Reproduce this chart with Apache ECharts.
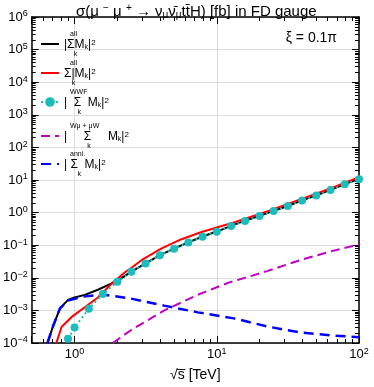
<!DOCTYPE html>
<html>
<head>
<meta charset="utf-8">
<script src="https://cdn.jsdelivr.net/npm/echarts@6/dist/echarts.min.js"></script>
<style>
  html, body { margin: 0; padding: 0; background: #fff; }
  #chart { width: 374px; height: 387px; }
</style>
</head>
<body>
<div id="chart"></div>
<script>
/* sigma(mu- mu+ -> nu nubar t tbar H) vs sqrt(s), FD gauge, xi = 0.1 pi */
const FONT = 'Liberation Sans';

// |sum_k^all M_k|^2
const allAmpS = [0.645, 0.71, 0.79, 0.9, 1.0, 1.18, 1.46, 1.81, 2.13, 2.51, 3.16, 3.98, 5.01, 6.31, 7.94, 10, 12.6, 15.8, 20, 25.1, 31.6, 39.8, 50.1, 63.1, 79.4, 100];
const allAmpV = [1e-4, 3.5e-4, 1.15e-3, 2.1e-3, 2.5e-3, 3.0e-3, 4.3e-3, 6.6e-3, 9.6e-3, 1.55e-2, 2.78e-2, 4.95e-2, 7.9e-2, 0.122, 0.185, 0.262, 0.39, 0.565, 0.8, 1.13, 1.6, 2.38, 3.37, 4.98, 7.55, 10.8];

// sum_k^all |M_k|^2
const allSqS = [0.745, 0.81, 0.95, 1.18, 1.46, 1.81, 2.25, 2.5, 2.94, 4.06, 5.6, 7.73, 10.7, 13.2, 22.6, 38.7, 65.8, 100];
const allSqV = [1e-4, 3.1e-4, 6.2e-4, 1.25e-3, 2.5e-3, 6.4e-3, 1.45e-2, 2.0e-2, 3.4e-2, 7.8e-2, 0.15, 0.25, 0.38, 0.5, 1.08, 2.55, 5.9, 12.3];

// WWF
const wwfS = [0.9, 1.0, 1.26, 1.58, 2.0, 2.51, 3.16, 3.98, 5.01, 6.31, 7.94, 10, 12.6, 15.8, 20, 25.1, 31.6, 39.8, 50.1, 63.1, 79.4, 100];
const wwfV = [1.35e-4, 2.98e-4, 1.12e-3, 3.2e-3, 7.5e-3, 1.53e-2, 2.74e-2, 4.89e-2, 7.8e-2, 0.121, 0.183, 0.259, 0.385, 0.557, 0.789, 1.12, 1.58, 2.35, 3.33, 4.92, 7.47, 10.6];

// W mu + mu W
const wmuS = [1.86, 2.5, 4.28, 7.33, 12, 22.6, 38.7, 66, 100];
const wmuV = [1e-4, 2.5e-4, 1.0e-3, 3.0e-3, 7.0e-3, 1.6e-2, 3.5e-2, 6.8e-2, 0.105];

// annihilation
const anniS = [0.645, 0.71, 0.79, 0.9, 1.12, 1.46, 1.72, 2.5, 4.26, 7.36, 13.2, 22.8, 38.6, 65.8, 100];
const anniV = [1e-4, 3.5e-4, 1.15e-3, 2.0e-3, 2.6e-3, 3.0e-3, 2.9e-3, 2.3e-3, 1.4e-3, 8.7e-4, 5.7e-4, 3.2e-4, 2.1e-4, 1.7e-4, 1.5e-4];

const xRange = [0.5, 100];
const yRange = [1e-4, 1e6];

const pairs = (xs, ys) => xs.map((x, i) => [x, ys[i]]);

const isPow10 = (v) => Math.abs(Math.log10(v) - Math.round(Math.log10(v))) < 1e-6;
const powLabel = (v) => {
  if (!isPow10(v)) return '';
  const e = Math.round(Math.log10(v));
  return '{b|10}{e|' + (e < 0 ? '\u2212' + (-e) : e) + '}';
};
const labelRich = {
  b: { fontFamily: FONT, fontSize: 13, color: '#000', lineHeight: 15 },
  e: { fontFamily: FONT, fontSize: 9, color: '#000', verticalAlign: 'top', lineHeight: 9 },
};

function logAxis(extra, range, split, showLabel) {
  return Object.assign({
    type: 'log', logBase: 10, min: range[0], max: range[1], splitNumber: split,
    axisLine: { lineStyle: { color: '#000', width: 1.5 } },
    axisTick: { inside: true, length: 7, lineStyle: { color: '#000', width: 1 } },
    minorTick: { show: true, splitNumber: 9, length: 4, lineStyle: { color: '#000', width: 1 } },
    axisLabel: { show: showLabel, formatter: powLabel, rich: labelRich, margin: 4 },
    splitLine: { show: false },
  }, extra);
}

// legend label pieces: sup text above the sum sign, main line, k below
const legendRich = {
  a: { fontFamily: FONT, fontSize: 7, lineHeight: 9, color: '#000', padding: [0, 0, 0, 6] },
  m: { fontFamily: FONT, fontSize: 12, lineHeight: 12, color: '#000' },
  s: { fontFamily: FONT, fontSize: 7, lineHeight: 7, color: '#000', verticalAlign: 'bottom' },
  p: { fontFamily: FONT, fontSize: 8, lineHeight: 8, color: '#000', verticalAlign: 'top' },
  k: { fontFamily: FONT, fontSize: 7, lineHeight: 7, color: '#000' },
};
const legendText = {
  all1: '{a|all}\n{m||\u03a3M}{s|k}{m||}{p|2}\n{k|     k}',
  all2: '{a|all}\n{m|\u03a3|M}{s|k}{m||}{p|2}\n{k|    k}',
  wwf: '{a|WWF}\n{m||  \u03a3  M}{s|k}{m||}{p|2}\n{k|       k}',
  wmu: '{a|W\u03bc + \u03bcW}\n{m||     \u03a3     M}{s|k}{m||}{p|2}\n{k|            k}',
  anni: '{a|anni.}\n{m|| \u03a3  M}{s|k}{m||}{p|2}\n{k|       k}',
};
const legendNames = ['all1', 'all2', 'wwf', 'wmu', 'anni'];
const legendIconY = [45, 74, 103, 137, 165];

const chart = echarts.init(document.getElementById('chart'));

chart.setOption({
  animation: false,
  backgroundColor: '#fff',
  title: {
    left: 76, top: 0, padding: [3, 0, 0, 0],
    text: '{n|\u03c3(\u03bc }{u|\u2212}{n| \u03bc }{u|+}{n| \u2192 \u03bd}{d|\u03bc}{n|\u03bd\u0304}{d|\u03bc}{n|tt\u0304H) [fb] in FD gauge}',
    textStyle: {
      fontWeight: 'normal',
      rich: {
        n: { fontFamily: FONT, fontSize: 15, fontWeight: 'normal', lineHeight: 17, color: '#000' },
        u: { fontFamily: FONT, fontSize: 10, fontWeight: 'normal', lineHeight: 10, color: '#000', verticalAlign: 'top' },
        d: { fontFamily: FONT, fontSize: 10, fontWeight: 'normal', lineHeight: 10, color: '#000', verticalAlign: 'bottom' },
      },
    },
  },
  graphic: [{
    type: 'text', x: 337, y: 38,
    style: { text: '\u03be = 0.1\u03c0', font: '14px ' + FONT, fill: '#000', align: 'right', verticalAlign: 'middle' },
  }],
  legend: legendNames.map((n, i) => ({
    data: [n], left: 40, top: legendIconY[i] - 14, padding: 0,
    orient: 'vertical', itemWidth: 18, itemHeight: 12, selectedMode: false,
    // only the WWF entry shows a marker
    itemStyle: n === 'wwf' ? {} : { opacity: 0 },
    formatter: (name) => legendText[name],
    textStyle: { rich: legendRich },
  })),
  grid: { left: 31, right: 15, top: 17, bottom: 39 },
  xAxis: [
    logAxis({
      position: 'bottom',
      name: '\u221as\u0305 [TeV]', nameLocation: 'middle', nameGap: 25,
      nameTextStyle: { fontFamily: FONT, fontSize: 14, color: '#000' },
      splitLine: { show: true, lineStyle: { color: '#dddddd', width: 1 } },
    }, xRange, 3, true),
    logAxis({ position: 'top', gridIndex: 0 }, xRange, 3, false),
  ],
  yAxis: [
    logAxis({
      position: 'left',
      splitLine: { show: true, lineStyle: { color: '#dddddd', width: 1 } },
    }, yRange, 10, true),
    logAxis({ position: 'right', gridIndex: 0 }, yRange, 10, false),
  ],
  series: [
    { name: 'all1', type: 'line', data: pairs(allAmpS, allAmpV), symbol: 'none', color: '#000',
      lineStyle: { color: '#000', width: 2 } },
    { name: 'all2', type: 'line', data: pairs(allSqS, allSqV), symbol: 'none', color: '#ff0000',
      lineStyle: { color: '#ff0000', width: 2 } },
    { name: 'wwf', type: 'line', data: pairs(wwfS, wwfV), symbol: 'circle', symbolSize: 8, color: '#1cbcbc',
      itemStyle: { color: '#1cbcbc' }, lineStyle: { color: '#1cbcbc', width: 2, type: [2, 3] } },
    { name: 'wmu', type: 'line', data: pairs(wmuS, wmuV), symbol: 'none', color: '#c000c0',
      lineStyle: { color: '#c000c0', width: 2, type: [9, 5] } },
    { name: 'anni', type: 'line', data: pairs(anniS, anniV), symbol: 'none', color: '#0000ff',
      lineStyle: { color: '#0000ff', width: 2.5, type: [10, 6] } },
  ],
});
</script>
</body>
</html>
